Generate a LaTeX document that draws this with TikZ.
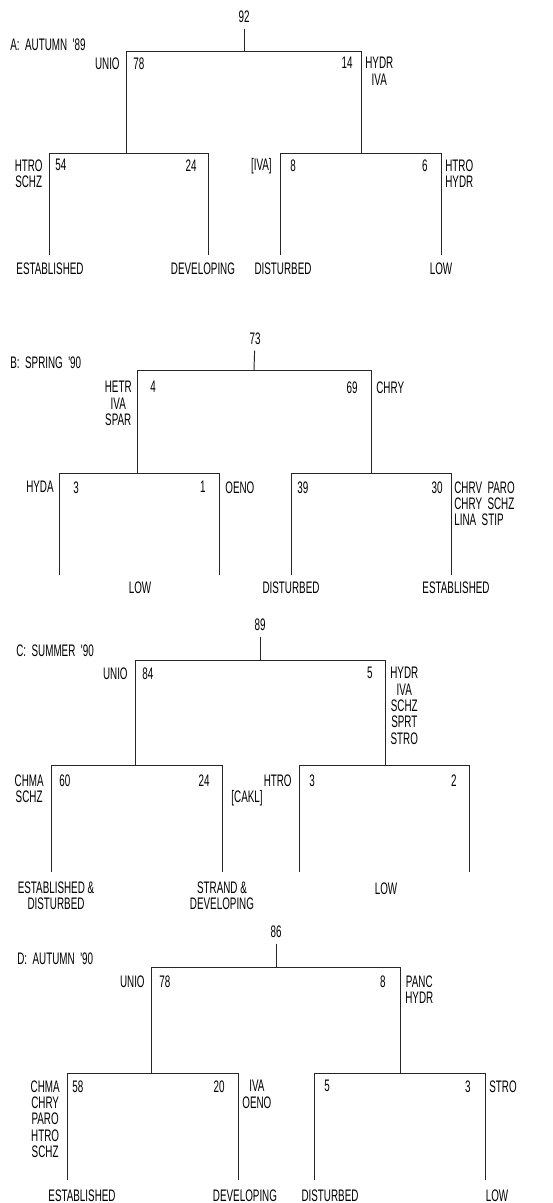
\documentclass[tikz,border=0pt]{standalone}
\usepackage{fontspec}
\newfontfamily\plotfont[FakeStretch=0.59]{Liberation Sans}
\usetikzlibrary{positioning}

\tikzset{
  lbl/.style={font=\plotfont\fontsize{9.5}{9.3}\selectfont, inner sep=0pt},
  spp/.style={lbl, align=center},
  grp/.style={lbl, align=center, anchor=north},
  branch/.style={line width=0.55pt, black!85},
}

\begin{document}
\begin{tikzpicture}[x=0.02cm, y=-0.02cm]
\useasboundingbox (0,0) rectangle (553,1203);

% season titles and total counts
\node[lbl, anchor=north west] (a-title) at (10,38) {A:~~AUTUMN~~'89};
\node[lbl, anchor=north west] (b-title) at (10,356) {B:~~SPRING~~'90};
\node[lbl, anchor=north west] (c-title) at (16,644) {C:~~SUMMER~~'90};
\node[lbl, anchor=north west] (d-title) at (17,952) {D:~~AUTUMN~~'90};
\node[lbl, anchor=north] (a-n) at (244,10) {92};
\node[lbl, anchor=north] (b-n) at (255,332) {73};
\node[lbl, anchor=north] (c-n) at (260,618) {89};
\node[lbl, anchor=north] (d-n) at (276,925) {86};

% two-level split of each season
\foreach \p/\yb/\yc/\ye/\xm/\xl/\xr/\xll/\xlr/\xrl/\xrr in {
    a/51/153/255/244/126/361/49/208/280/441,
    b/370/473/575/254/137/371/59/219/291/451,
    c/660/765/872/260/135/385/51/222/299/469,
    d/967/1073/1180/276/151/400/67/238/314/485
} {
    \coordinate (\p-m) at (\xm,\yb);
    \coordinate (\p-l) at (\xl,\yb);
    \coordinate (\p-r) at (\xr,\yb);
    \coordinate (\p-lm) at (\xl,\yc);
    \coordinate (\p-rm) at (\xr,\yc);
    \coordinate (\p-ll) at (\xll,\yc);
    \coordinate (\p-lr) at (\xlr,\yc);
    \coordinate (\p-rl) at (\xrl,\yc);
    \coordinate (\p-rr) at (\xrr,\yc);
    \coordinate (\p-lle) at (\xll,\ye);
    \coordinate (\p-lre) at (\xlr,\ye);
    \coordinate (\p-rle) at (\xrl,\ye);
    \coordinate (\p-rre) at (\xrr,\ye);
    \draw[branch, shorten <=3.5pt] (\p-n) -- (\p-m);
    \draw[branch] (\p-lm) -- (\p-l) -- (\p-r) -- (\p-rm);
    \draw[branch] (\p-lle) -- (\p-ll) -- (\p-lr) -- (\p-lre);
    \draw[branch] (\p-rle) -- (\p-rl) -- (\p-rr) -- (\p-rre);
}

% A: autumn '89
\node[spp, anchor=north east] (a-unio) at (120,57) {UNIO};
\node[lbl, anchor=north west] (a-78) at (133,57) {78};
\node[lbl, anchor=north east] (a-14) at (353,57) {14};
\node[spp, anchor=north west] (a-hydr) at (365,57) {HYDR\\IVA};
\node[spp, anchor=north east] (a-htro) at (43,159) {HTRO\\SCHZ};
\node[lbl, anchor=north west] (a-54) at (55,159) {54};
\node[lbl, anchor=north east] (a-24) at (197,159) {24};
\node[lbl, anchor=north east] (a-iva) at (272,158) {[IVA]};
\node[lbl, anchor=north west] (a-8) at (290,159) {8};
\node[lbl, anchor=north east] (a-6) at (428,159) {6};
\node[spp, anchor=north west] (a-htro2) at (445,159) {HTRO\\HYDR};
\node[grp] (a-est) at (50,262) {ESTABLISHED};
\node[grp] (a-dev) at (203,262) {DEVELOPING};
\node[grp] (a-dis) at (283,262) {DISTURBED};
\node[grp] (a-low) at (441,262) {LOW};

% B: spring '90
\node[spp, anchor=north east] (b-hetr) at (132,381) {HETR\\IVA\\SPAR};
\node[lbl, anchor=north west] (b-4) at (150,381) {4};
\node[lbl, anchor=north east] (b-69) at (358,381) {69};
\node[spp, anchor=north west] (b-chry) at (376,381) {CHRY};
\node[spp, anchor=north east] (b-hyda) at (54,481) {HYDA};
\node[lbl, anchor=north west] (b-3) at (73,481) {3};
\node[lbl, anchor=north east] (b-1) at (206,481) {1};
\node[spp, anchor=north west] (b-oeno) at (225,481) {OENO};
\node[lbl, anchor=north west] (b-39) at (297,481) {39};
\node[lbl, anchor=north east] (b-30) at (443,481) {30};
\node[lbl, align=left, anchor=north west] (b-chrv) at (454,481) {CHRV~~PARO\\CHRY~~SCHZ\\LINA~~STIP};
\node[grp] (b-low) at (140,581) {LOW};
\node[grp] (b-dis) at (291,581) {DISTURBED};
\node[grp] (b-est) at (456,581) {ESTABLISHED};

% C: summer '90
\node[spp, anchor=north east] (c-unio) at (128,667) {UNIO};
\node[lbl, anchor=north west] (c-84) at (142,667) {84};
\node[lbl, anchor=north east] (c-5) at (373,667) {5};
\node[spp, anchor=north west] (c-hydr) at (390,667) {HYDR\\IVA\\SCHZ\\SPRT\\STRO};
\node[spp, anchor=north east] (c-chma) at (44,774) {CHMA\\SCHZ};
\node[lbl, anchor=north west] (c-60) at (59,774) {60};
\node[lbl, anchor=north east] (c-24) at (210,774) {24};
\node[lbl, anchor=north] (c-cakl) at (247,790) {[CAKL]};
\node[spp, anchor=north east] (c-htro) at (292,774) {HTRO};
\node[lbl, anchor=north west] (c-3) at (309,774) {3};
\node[lbl, anchor=north east] (c-2) at (457,774) {2};
\node[grp] (c-est) at (56,881) {ESTABLISHED \&\\DISTURBED};
\node[grp] (c-str) at (222,881) {STRAND \&\\DEVELOPING};
\node[grp] (c-low) at (386,882) {LOW};

% D: autumn '90
\node[spp, anchor=north east] (d-unio) at (145,975) {UNIO};
\node[lbl, anchor=north west] (d-78) at (159,975) {78};
\node[lbl, anchor=north east] (d-8) at (386,975) {8};
\node[spp, anchor=north west] (d-panc) at (405,975) {PANC\\HYDR};
\node[spp, anchor=north east] (d-chma) at (60,1080) {CHMA\\CHRY\\PARO\\HTRO\\SCHZ};
\node[lbl, anchor=north west] (d-58) at (72,1080) {58};
\node[lbl, anchor=north east] (d-20) at (225,1080) {20};
\node[spp, anchor=north west] (d-iva) at (242,1080) {IVA\\OENO};
\node[lbl, anchor=north west] (d-5) at (324,1080) {5};
\node[lbl, anchor=north east] (d-3) at (471,1080) {3};
\node[spp, anchor=north west] (d-stro) at (489,1080) {STRO};
\node[grp] (d-est) at (82,1189) {ESTABLISHED};
\node[grp] (d-dev) at (245,1189) {DEVELOPING};
\node[grp] (d-dis) at (330,1189) {DISTURBED};
\node[grp] (d-low) at (497,1189) {LOW};
\end{tikzpicture}
\end{document}
